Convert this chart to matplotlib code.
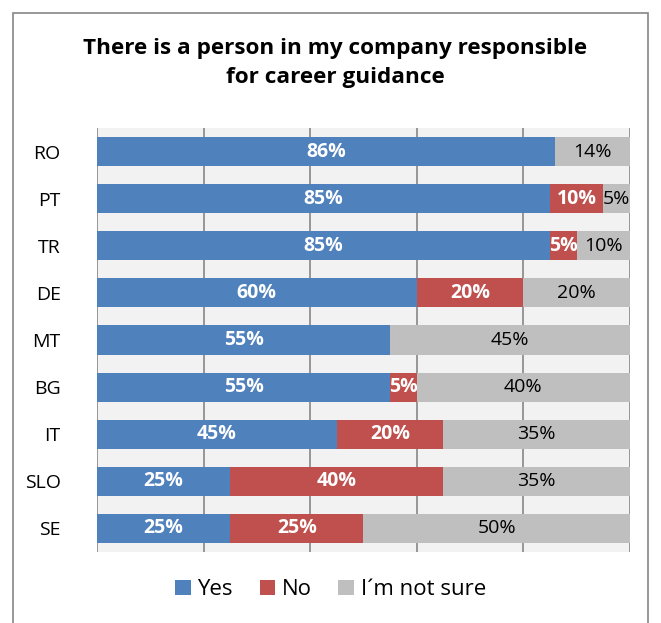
import matplotlib.pyplot as plt
from matplotlib.patches import Rectangle
import numpy as np

countries = ['RO', 'PT', 'TR', 'DE', 'MT', 'BG', 'IT', 'SLO', 'SE']
yes = [86, 85, 85, 60, 55, 55, 45, 25, 25]
no = [0, 10, 5, 20, 0, 5, 20, 40, 25]
not_sure = [14, 5, 10, 20, 45, 40, 35, 35, 50]
series_names = ['Yes', 'No', 'I´m not sure']

colors = ['#4F81BD', '#C0504D', '#BFBFBF']
text_colors = ['white', 'white', 'black']
weights = ['bold', 'bold', 'normal']

plt.rcParams['font.family'] = ['Open Sans', 'DejaVu Sans']

fig = plt.figure(figsize=(6.61, 6.23), dpi=100)
ax = fig.add_axes([0.1467, 0.114, 0.8063, 0.6805])
ax.set_facecolor('#F2F2F2')

y = np.arange(len(countries))
left = np.zeros(len(countries))
for vals, name, col, tc, w in zip([yes, no, not_sure], series_names, colors, text_colors, weights):
    vals = np.array(vals, dtype=float)
    bars = ax.barh(y, vals, left=left, height=0.62, color=col, label=name, zorder=3)
    for b, v in zip(bars, vals):
        if v > 0:
            ax.text(b.get_x() + b.get_width() / 2, b.get_y() + b.get_height() / 2,
                    '{:d}%'.format(int(v)), ha='center', va='center',
                    color=tc, fontsize=14, fontweight=w, zorder=4)
    left += vals

ax.set_xlim(0, 100)
ax.set_ylim(len(countries) - 0.5, -0.5)
ax.set_xticks([0, 20, 40, 60, 80, 100])
ax.set_xticklabels([])
ax.tick_params(axis='x', length=0)
ax.tick_params(axis='y', length=0, pad=26, labelsize=14)
ax.set_yticks(y)
ax.set_yticklabels(countries)
ax.grid(axis='x', color='#868686', linewidth=1.2, zorder=1)
for s in ax.spines.values():
    s.set_visible(False)

fig.text(0.507, 0.899, 'There is a person in my company responsible\nfor career guidance',
         ha='center', va='center', fontsize=16.2, fontweight='bold', linespacing=1.5)

fig.legend(loc='center', bbox_to_anchor=(0.5, 0.053), ncol=3, frameon=False,
           fontsize=16, handlelength=0.7, handleheight=0.7, handletextpad=0.3,
           columnspacing=1.2)

fig.patches.append(Rectangle((0.0197, -0.05), 0.9603, 1.029, transform=fig.transFigure,
                             fill=False, edgecolor='#868686', linewidth=1.2))

fig.savefig('out.png', dpi=100)
